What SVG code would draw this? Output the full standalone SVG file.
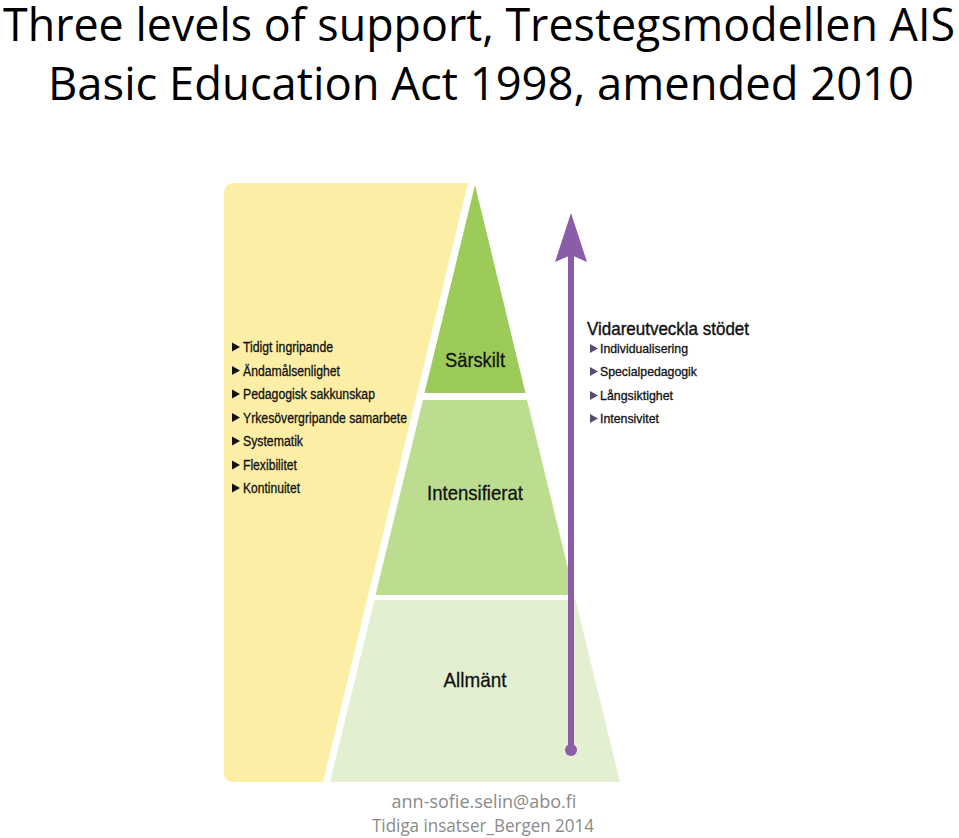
<svg xmlns="http://www.w3.org/2000/svg" width="959" height="838" viewBox="0 0 959 838">
<style>
.title{font-family:"Open Sans","Liberation Sans",sans-serif;font-size:45px;fill:#000}
.lbl{font-family:"Liberation Sans",Arial,sans-serif;font-size:14px;fill:#111;stroke:#111;stroke-width:0.3}
.rl{font-family:"Liberation Sans",Arial,sans-serif;font-size:13px;fill:#111;stroke:#111;stroke-width:0.3}
.lvl{font-family:"Liberation Sans",Arial,sans-serif;font-size:21px;fill:#111;text-anchor:middle;stroke:#111;stroke-width:0.3}
.foot{font-family:"Open Sans","Liberation Sans",sans-serif;font-size:18px;fill:#8a8a8a;text-anchor:middle}
</style>
<defs>
<path id="tri" d="M0,-4.5 L8,0 L0,4.5 Z"/>
</defs>
<rect width="959" height="838" fill="#fff"/>
<text class="title" x="3" y="41" textLength="952" lengthAdjust="spacingAndGlyphs">Three levels of support, Trestegsmodellen AIS</text>
<text class="title" x="48" y="100" textLength="866" lengthAdjust="spacingAndGlyphs">Basic Education Act 1998, amended 2010</text>

<g id="panel">
<path d="M234,183 L468,183 L323,782 L234,782 Q224,782 224,772 L224,193 Q224,183 234,183 Z" fill="#fdeea6"/>
<use href="#tri" x="232" y="347" fill="#111"/><text class="lbl" x="243" y="352" textLength="90" lengthAdjust="spacingAndGlyphs">Tidigt ingripande</text>
<use href="#tri" x="232" y="370.5" fill="#111"/><text class="lbl" x="243" y="375.5" textLength="97" lengthAdjust="spacingAndGlyphs">Ändamålsenlighet</text>
<use href="#tri" x="232" y="394" fill="#111"/><text class="lbl" x="243" y="399" textLength="132" lengthAdjust="spacingAndGlyphs">Pedagogisk sakkunskap</text>
<use href="#tri" x="232" y="417.5" fill="#111"/><text class="lbl" x="243" y="422.5" textLength="164" lengthAdjust="spacingAndGlyphs">Yrkesövergripande samarbete</text>
<use href="#tri" x="232" y="441" fill="#111"/><text class="lbl" x="243" y="446" textLength="60" lengthAdjust="spacingAndGlyphs">Systematik</text>
<use href="#tri" x="232" y="465" fill="#111"/><text class="lbl" x="243" y="470" textLength="54" lengthAdjust="spacingAndGlyphs">Flexibilitet</text>
<use href="#tri" x="232" y="488" fill="#111"/><text class="lbl" x="243" y="493" textLength="57" lengthAdjust="spacingAndGlyphs">Kontinuitet</text>
</g>

<g id="sarskilt">
<path d="M475,185 L525.5,393 L424.5,393 Z" fill="#9ccb5a"/>
<text class="lvl" x="475" y="367" textLength="60" lengthAdjust="spacingAndGlyphs">Särskilt</text>
</g>
<g id="intensifierat">
<path d="M423,400 L527,400 L574.5,595 L375.5,595 Z" fill="#bcdd8f"/>
<text class="lvl" x="475" y="500" textLength="96" lengthAdjust="spacingAndGlyphs">Intensifierat</text>
</g>
<g id="allmant">
<path d="M374.5,600 L575.5,600 L620,782 L330,782 Z" fill="#e2efd0"/>
<text class="lvl" x="475" y="687" textLength="63" lengthAdjust="spacingAndGlyphs">Allmänt</text>
</g>

<g id="connectors">
<line x1="571" y1="750" x2="571" y2="250" stroke="#8b5ca8" stroke-width="6"/>
<circle cx="571" cy="750" r="6" fill="#8b5ca8"/>
<path d="M571,213 L587,262 L571,255 L555,262 Z" fill="#8b5ca8"/>
</g>

<g id="vidare">
<text x="587" y="335" font-family="Liberation Sans,Arial,sans-serif" font-size="18.5" fill="#111" stroke="#111" stroke-width="0.4" textLength="162" lengthAdjust="spacingAndGlyphs">Vidareutveckla stödet</text>
<use href="#tri" x="590" y="348.5" fill="#5b4a70"/><text class="rl" x="600" y="353" textLength="88" lengthAdjust="spacingAndGlyphs">Individualisering</text>
<use href="#tri" x="590" y="371.5" fill="#5b4a70"/><text class="rl" x="600" y="376" textLength="97" lengthAdjust="spacingAndGlyphs">Specialpedagogik</text>
<use href="#tri" x="590" y="395.5" fill="#5b4a70"/><text class="rl" x="600" y="400" textLength="73" lengthAdjust="spacingAndGlyphs">Långsiktighet</text>
<use href="#tri" x="590" y="418.5" fill="#5b4a70"/><text class="rl" x="600" y="423" textLength="59" lengthAdjust="spacingAndGlyphs">Intensivitet</text>
</g>

<text class="foot" x="484" y="808">ann-sofie.selin@abo.fi</text>
<text class="foot" x="483" y="832" textLength="222" lengthAdjust="spacingAndGlyphs">Tidiga insatser_Bergen 2014</text>
</svg>
